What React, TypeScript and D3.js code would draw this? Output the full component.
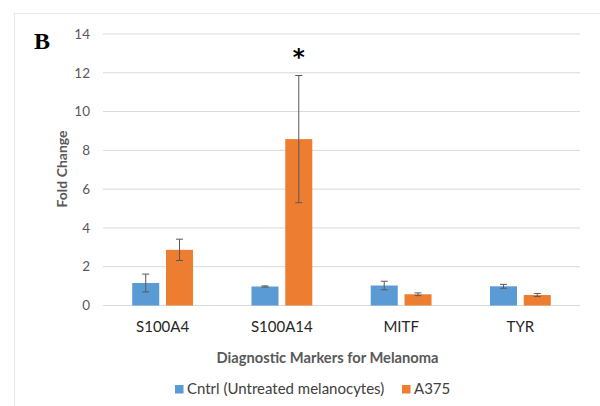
import React, { useEffect, useRef } from 'react';
import * as d3 from 'd3';

// 数据：从图上读出来的估计值
const categories = ['S100A4', 'S100A14', 'MITF', 'TYR'];
const seriesNames = ['Cntrl (Untreated melanocytes)', 'A375'];
const cntrlValues = [1.16, 0.98, 1.03, 0.99];
const cntrlErrors = [0.46, 0.03, 0.22, 0.1];
const a375Values = [2.87, 8.58, 0.58, 0.54];
const a375Errors = [0.55, 3.28, 0.07, 0.08];
const yTicks = [0, 2, 4, 6, 8, 10, 12, 14];
const colors = ['#5B9BD5', '#ED7D31'];
const significant = [false, true]; // 只有 S100A14 有星号

const W = 600, H = 406;
const FONT = 'Lato, "Open Sans", sans-serif';

const App: React.FC = () => {
  const svgRef = useRef<SVGSVGElement>(null);

  useEffect(() => {
    if (!svgRef.current) return;
    const svg = d3.select(svgRef.current);
    svg.selectAll('*').remove();

    // 外框
    svg.append('rect')
      .attr('x', 14.5).attr('y', 13.5).attr('width', W).attr('height', H)
      .attr('fill', '#fff').attr('stroke', '#e6e6e6');

    const x0 = 103, x1 = 580, yTop = 34, yBot = 305.5;

    const x = d3.scaleBand<string>().domain(categories).range([x0, x1])
      .paddingInner(0.49).paddingOuter(0.245);
    const xs = d3.scaleBand<string>().domain(seriesNames).range([0, x.bandwidth()])
      .paddingInner(0.2);
    const y = d3.scaleLinear().domain([0, 14]).range([yBot, yTop]);

    // 网格线
    svg.append('g').selectAll('line').data(yTicks).enter().append('line')
      .attr('x1', x0).attr('x2', x1)
      .attr('y1', d => y(d)).attr('y2', d => y(d))
      .attr('stroke', '#d9d9d9').attr('stroke-width', 1);

    // y 轴刻度
    svg.append('g').selectAll('text').data(yTicks).enter().append('text')
      .attr('x', 90).attr('y', d => y(d)).attr('dy', '0.35em')
      .attr('text-anchor', 'end')
      .style('font-family', FONT).style('font-size', '13.5px').attr('fill', '#595959')
      .text(d => d);

    const series = [
      { name: seriesNames[0], values: cntrlValues, errs: cntrlErrors },
      { name: seriesNames[1], values: a375Values, errs: a375Errors },
    ];

    series.forEach((s, si) => {
      const g = svg.append('g');
      g.selectAll('rect').data(categories).enter().append('rect')
        .attr('x', c => (x(c) as number) + (xs(s.name) as number))
        .attr('y', (c, i) => y(s.values[i]))
        .attr('width', xs.bandwidth())
        .attr('height', (c, i) => yBot - y(s.values[i]))
        .attr('fill', colors[si]);

      // 误差线
      const eb = svg.append('g').attr('stroke', '#595959').attr('stroke-width', 1);
      categories.forEach((c, i) => {
        const cx = (x(c) as number) + (xs(s.name) as number) + xs.bandwidth() / 2;
        const hi = y(s.values[i] + s.errs[i]);
        const lo = y(s.values[i] - s.errs[i]);
        eb.append('line').attr('x1', cx).attr('x2', cx).attr('y1', hi).attr('y2', lo);
        eb.append('line').attr('x1', cx - 3.5).attr('x2', cx + 3.5).attr('y1', hi).attr('y2', hi);
        eb.append('line').attr('x1', cx - 3.5).attr('x2', cx + 3.5).attr('y1', lo).attr('y2', lo);
      });
    });

    // 星号
    categories.forEach((c, i) => {
      if (c !== 'S100A14' || !significant[1]) return;
      const cx = (x(c) as number) + (xs(seriesNames[1]) as number) + xs.bandwidth() / 2;
      svg.append('text')
        .attr('x', cx).attr('y', y(a375Values[i] + a375Errors[i]) - 11)
        .attr('text-anchor', 'middle')
        .style('font-family', '"DejaVu Sans", sans-serif').style('font-size', '23px')
        .style('font-weight', 'bold').attr('fill', '#000')
        .text('*');
    });

    // x 轴分类标签
    svg.append('g').selectAll('text').data(categories).enter().append('text')
      .attr('x', c => (x(c) as number) + x.bandwidth() / 2).attr('y', 332)
      .attr('text-anchor', 'middle')
      .style('font-family', FONT).style('font-size', '15px').attr('fill', '#262626')
      .text(c => c);

    // 轴标题
    svg.append('text')
      .attr('x', (x0 + x1) / 2 - 14).attr('y', 363).attr('text-anchor', 'middle')
      .style('font-family', FONT).style('font-size', '14.7px').style('font-weight', 'bold')
      .attr('fill', '#595959').text('Diagnostic Markers for Melanoma');

    svg.append('text')
      .attr('transform', `translate(67,169) rotate(-90)`).attr('text-anchor', 'middle')
      .style('font-family', FONT).style('font-size', '14px').style('font-weight', 'bold')
      .attr('fill', '#595959').text('Fold Change');

    // 面板字母
    svg.append('text')
      .attr('x', 34).attr('y', 49)
      .style('font-family', '"Liberation Serif", "DejaVu Serif", serif')
      .style('font-size', '24px').style('font-weight', 'bold').attr('fill', '#000')
      .text('B');

    // 图例
    const legendX = [175, 402];
    seriesNames.forEach((n, i) => {
      svg.append('rect').attr('x', legendX[i]).attr('y', 385).attr('width', 8.5).attr('height', 8.5)
        .attr('fill', colors[i]);
      svg.append('text').attr('x', legendX[i] + 12).attr('y', 394)
        .style('font-family', FONT).style('font-size', '15px').attr('fill', '#404040')
        .text(n);
    });
  }, []);

  return (
    <svg ref={svgRef} width={W} height={H}
      style={{ position: 'absolute', left: 0, top: 0, background: '#fff' }} />
  );
};

export default App;
